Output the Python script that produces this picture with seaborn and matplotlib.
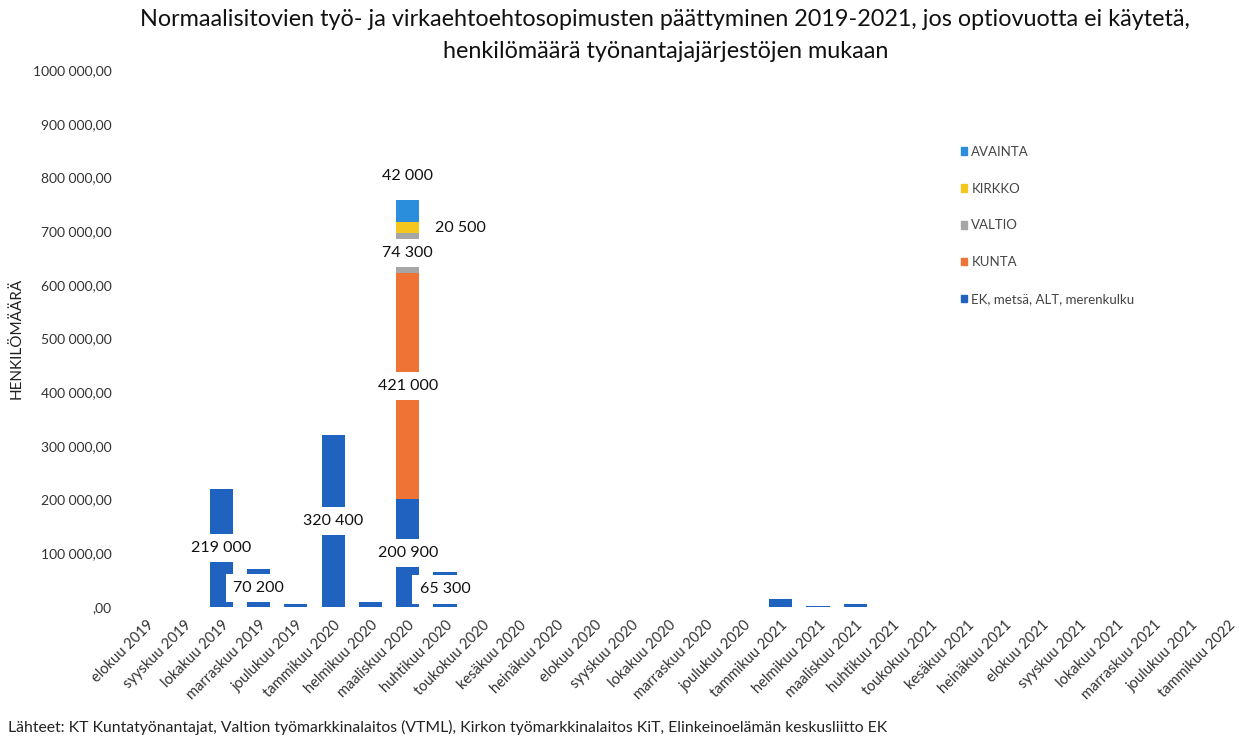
import numpy as np
import pandas as pd
import matplotlib
matplotlib.use("Agg")
import matplotlib.pyplot as plt
from matplotlib.patches import Patch
import seaborn as sns

sns.set_theme(style="white")
plt.rcParams['font.family'] = ['Lato', 'DejaVu Sans']

kuukaudet = [
    "elokuu 2019", "syyskuu 2019", "lokakuu 2019", "marraskuu 2019", "joulukuu 2019",
    "tammikuu 2020", "helmikuu 2020", "maaliskuu 2020", "huhtikuu 2020", "toukokuu 2020",
    "kesäkuu 2020", "heinäkuu 2020", "elokuu 2020", "syyskuu 2020", "lokakuu 2020",
    "marraskuu 2020", "joulukuu 2020", "tammikuu 2021", "helmikuu 2021", "maaliskuu 2021",
    "huhtikuu 2021", "toukokuu 2021", "kesäkuu 2021", "heinäkuu 2021", "elokuu 2021",
    "syyskuu 2021", "lokakuu 2021", "marraskuu 2021", "joulukuu 2021", "tammikuu 2022",
]

# henkilömäärät sarjoittain (luettu kuvasta)
ek      = [0, 0, 219000, 70200, 5000, 320400, 10000, 200900, 65300, 0,
           0, 0, 0, 0, 0, 0, 0, 15000, 2000, 6000,
           0, 0, 0, 0, 0, 0, 0, 0, 0, 0]
kunta   = [0] * 7 + [421000] + [0] * 22
valtio  = [0] * 7 + [74300] + [0] * 22
kirkko  = [0] * 7 + [20500] + [0] * 22
avainta = [0] * 7 + [42000] + [0] * 22

sarjat = ["EK, metsä, ALT, merenkulku", "KUNTA", "VALTIO", "KIRKKO", "AVAINTA"]
arvot  = [ek, kunta, valtio, kirkko, avainta]
varit  = ["#1F62BF", "#EE7335", "#A6A6A6", "#F5C71E", "#2B8EDC"]

ytick_arvot  = [0, 100000, 200000, 300000, 400000, 500000, 600000, 700000, 800000, 900000, 1000000]
ytick_tekstit = [",00", "100 000,00", "200 000,00", "300 000,00", "400 000,00", "500 000,00",
                 "600 000,00", "700 000,00", "800 000,00", "900 000,00", "1000 000,00"]

df = pd.DataFrame({s: v for s, v in zip(sarjat, arvot)}, index=kuukaudet)
kertyma = df.cumsum(axis=1)

fig = plt.figure(figsize=(12.39, 7.37), dpi=100)
ax = fig.add_axes([128 / 1239, 130 / 737, 1119 / 1239, 537 / 737])

# pinotut pylväät: piirretään kertymät ylhäältä alas päällekkäin
for s, c in zip(reversed(sarjat), reversed(varit)):
    sns.barplot(x=kuukaudet, y=kertyma[s].values, color=c, saturation=1,
                width=0.62, errorbar=None, linewidth=0, ax=ax)

ax.set_ylim(0, 1000000)
ax.set_xlim(-0.5, len(kuukaudet) - 0.5)
ax.set_yticks(ytick_arvot)
ax.set_yticklabels(ytick_tekstit)
ax.tick_params(axis="y", length=0, pad=12, labelsize=10, labelcolor="#333333")
ax.tick_params(axis="x", length=0, pad=8, labelsize=10.5, labelcolor="#333333")
plt.setp(ax.get_xticklabels(), rotation=45, ha="right", rotation_mode="anchor")
ax.set_xlabel("")
ax.set_ylabel("HENKILÖMÄÄRÄ", fontsize=11, color="#222222")
ax.yaxis.set_label_coords(-0.093, 0.5)
sns.despine(ax=ax, left=True, bottom=True)


def fmt(v):
    return f"{v:,.0f}".replace(",", " ")


laatikko = dict(boxstyle="square,pad=0.45", fc="white", ec="none")
for s in sarjat:
    pohja = kertyma[s] - df[s]
    for i, kk in enumerate(kuukaudet):
        v = df.loc[kk, s]
        if v < 20000:
            continue
        y = pohja[kk] + v / 2
        dx, dy = 0, 0
        if s == "KIRKKO":
            dx = 38
        if s == "AVAINTA":
            y = kertyma.loc[kk, s]
            dy = 17
        ax.annotate(fmt(v), (i, y), xytext=(dx, dy), textcoords="offset points",
                    ha="center", va="center", fontsize=11.5, color="#111111",
                    bbox=laatikko, zorder=5)

kahvat = [Patch(color=c, label=s) for s, c in zip(reversed(sarjat), reversed(varit))]
ax.legend(handles=kahvat, loc="upper left", bbox_to_anchor=(949 / 1239, 1 - 134 / 737),
          bbox_transform=fig.transFigure, frameon=False, fontsize=9.5,
          labelspacing=1.88, handlelength=0.5, handleheight=0.5, handletextpad=0.3,
          labelcolor="#444444")

fig.text(0.537, 1 - 20 / 737,
         "Normaalisitovien työ- ja virkaehtoehtosopimusten päättyminen 2019-2021, jos optiovuotta ei käytetä,",
         ha="center", va="center", fontsize=16.8, color="#111111")
fig.text(0.537, 1 - 52 / 737, "henkilömäärä työnantajajärjestöjen mukaan",
         ha="center", va="center", fontsize=16.8, color="#111111")
fig.text(8 / 1239, 1 - 727 / 737,
         "Lähteet: KT Kuntatyönantajat, Valtion työmarkkinalaitos (VTML), Kirkon työmarkkinalaitos KiT, Elinkeinoelämän keskusliitto EK",
         ha="left", va="center", fontsize=11.3, color="#222222")

fig.savefig("out.png", dpi=100)
